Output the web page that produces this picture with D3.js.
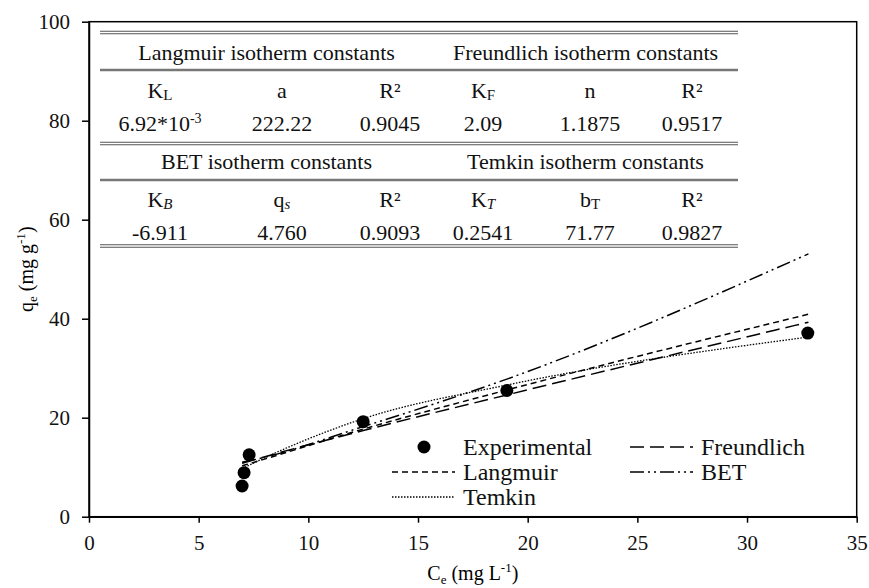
<!DOCTYPE html>
<html>
<head>
<meta charset="utf-8">
<script src="https://cdn.jsdelivr.net/npm/d3@7"></script>
<style>
  text, tspan { font-family: "Liberation Serif" !important; }
</style>
</head>
<body style="margin:0">
<svg id="fig" width="869" height="588" font-family="Liberation Serif"></svg>
<script>
// experimental points
const ceExp = [6.98, 7.07, 7.3, 12.5, 19.05, 32.77];
const qeExp = [6.2, 8.9, 12.5, 19.2, 25.5, 37.1];

const ceFit = [6.98, 7.07, 7.3, 12.5, 19.05, 32.8];
const langmuirFit = [10.3, 10.4, 10.7, 17.7, 25.6, 40.9];
const freundlichFit = [10.8, 10.9, 11.2, 17.4, 24.6, 39.3];
const betFit = [11.0, 11.1, 11.3, 18.2, 27.8, 53.1];
const temkinFit = [9.7, 9.9, 10.4, 19.8, 26.6, 36.3];

const xTicks = [0, 5, 10, 15, 20, 25, 30, 35];
const yTicks = [0, 20, 40, 60, 80, 100];

// inset table
const tableTitles = [
  "Langmuir isotherm constants", "Freundlich isotherm constants",
  "BET isotherm constants", "Temkin isotherm constants"
];
const symbolsTop = [
  { t: "K", sub: "L" }, { t: "a" }, { t: "R²" },
  { t: "K", sub: "F" }, { t: "n" }, { t: "R²" }
];
const valuesTop = [
  { t: "6.92*10", sup: "-3" }, { t: "222.22" }, { t: "0.9045" },
  { t: "2.09" }, { t: "1.1875" }, { t: "0.9517" }
];
const symbolsBottom = [
  { t: "K", sub: "B", it: true }, { t: "q", sub: "s", it: true }, { t: "R²" },
  { t: "K", sub: "T", it: true }, { t: "b", sub: "T" }, { t: "R²" }
];
const valuesBottom = [
  { t: "-6.911" }, { t: "4.760" }, { t: "0.9093" },
  { t: "0.2541" }, { t: "71.77" }, { t: "0.9827" }
];

const FONT = "Liberation Serif";
const svg = d3.select("#fig");
const plotL = 89, plotR = 856.7, plotT = 21.7, plotB = 516.7;

const x = d3.scaleLinear().domain([0, 35]).range([plotL, plotR]);
const y = d3.scaleLinear().domain([0, 100]).range([plotB, plotT]);

// frame
svg.append("rect")
  .attr("x", plotL).attr("y", plotT)
  .attr("width", plotR - plotL).attr("height", plotB - plotT)
  .attr("fill", "none").attr("stroke", "#000").attr("stroke-width", 1.5);

const xAxis = svg.append("g")
  .attr("transform", "translate(0," + plotB + ")")
  .call(d3.axisBottom(x).tickValues(xTicks).tickSize(6).tickSizeOuter(0).tickPadding(12));
const yAxis = svg.append("g")
  .attr("transform", "translate(" + plotL + ",0)")
  .call(d3.axisLeft(y).tickValues(yTicks).tickSize(7).tickSizeOuter(0).tickPadding(12));

[xAxis, yAxis].forEach(function (g) {
  g.attr("font-family", FONT).attr("font-size", 21);
  g.select(".domain").attr("stroke-width", 1.5);
  g.selectAll(".tick line").attr("stroke-width", 1.5);
  g.selectAll(".tick text").attr("fill", "#111");
});

// axis titles
const xTitle = svg.append("text")
  .attr("x", (plotL + plotR) / 2).attr("y", 580)
  .attr("text-anchor", "middle").attr("font-size", 20);
xTitle.append("tspan").text("C");
xTitle.append("tspan").attr("font-size", 13).attr("dy", 4).text("e");
xTitle.append("tspan").attr("dy", -4).text(" (mg L");
xTitle.append("tspan").attr("font-size", 13).attr("dy", -8).text("-1");
xTitle.append("tspan").attr("dy", 8).text(")");

const yTitle = svg.append("text")
  .attr("transform", "translate(33," + (plotT + plotB) / 2 + ") rotate(-90)")
  .attr("text-anchor", "middle").attr("font-size", 20);
yTitle.append("tspan").text("q");
yTitle.append("tspan").attr("font-size", 13).attr("dy", 4).text("e");
yTitle.append("tspan").attr("dy", -4).text(" (mg g");
yTitle.append("tspan").attr("font-size", 13).attr("dy", -8).text("-1");
yTitle.append("tspan").attr("dy", 8).text(")");

// table
const tblLeft = 100, tblRight = 738, tblMid = 433;
const colX = [160, 282, 390, 483, 590, 692];
const table = svg.append("g").attr("fill", "#111");

function doubleRule(yy) {
  [yy - 1.3, yy + 1.3].forEach(function (v) {
    table.append("line")
      .attr("x1", tblLeft).attr("x2", tblRight)
      .attr("y1", v).attr("y2", v)
      .attr("stroke", "#555").attr("stroke-width", 1.1);
  });
}
function singleRule(yy) {
  table.append("line")
    .attr("x1", tblLeft).attr("x2", tblRight)
    .attr("y1", yy).attr("y2", yy)
    .attr("stroke", "#777").attr("stroke-width", 2.4);
}
function cellRow(cells, yy) {
  cells.forEach(function (c, i) {
    const t = table.append("text")
      .attr("x", colX[i]).attr("y", yy)
      .attr("text-anchor", "middle")
      .attr("font-size", 22);
    t.append("tspan").text(c.t);
    if (c.sub) {
      t.append("tspan")
        .attr("font-size", 15).attr("dy", 2)
        .attr("font-style", c.it ? "italic" : "normal")
        .text(c.sub);
    }
    if (c.sup) {
      t.append("tspan").attr("font-size", 14).attr("dy", -8).text(c.sup);
    }
  });
}
function titleRow(a, b, yy) {
  table.append("text").attr("x", (tblLeft + tblMid) / 2).attr("y", yy)
    .attr("text-anchor", "middle").attr("font-size", 22).text(a);
  table.append("text").attr("x", (tblMid + tblRight) / 2).attr("y", yy)
    .attr("text-anchor", "middle").attr("font-size", 22).text(b);
}

doubleRule(32.5);
titleRow(tableTitles[0], tableTitles[1], 60);
singleRule(70);
cellRow(symbolsTop, 98);
cellRow(valuesTop, 131);
doubleRule(143.5);
titleRow(tableTitles[2], tableTitles[3], 169);
singleRule(180);
cellRow(symbolsBottom, 207);
cellRow(valuesBottom, 240);
doubleRule(246);

// fitted curves
const styles = {
  langmuir: { dash: "6,4", w: 1.5 },
  freundlich: { dash: "14,6", w: 1.5 },
  bet: { dash: "14,4,2,4,2,4", w: 1.5 },
  temkin: { dash: "1.5,1.5", w: 1.3 }
};
const series = [
  { key: "langmuir", vals: langmuirFit },
  { key: "freundlich", vals: freundlichFit },
  { key: "bet", vals: betFit },
  { key: "temkin", vals: temkinFit }
];
const line = d3.line()
  .x(function (d) { return x(d[0]); })
  .y(function (d) { return y(d[1]); })
  .curve(d3.curveMonotoneX);

svg.append("g").selectAll("path")
  .data(series)
  .enter()
  .append("path")
  .attr("d", function (s) { return line(d3.zip(ceFit, s.vals)); })
  .attr("fill", "none")
  .attr("stroke", "#000")
  .attr("stroke-width", function (s) { return styles[s.key].w; })
  .attr("stroke-dasharray", function (s) { return styles[s.key].dash; });

svg.append("g").selectAll("circle")
  .data(d3.zip(ceExp, qeExp))
  .enter()
  .append("circle")
  .attr("cx", function (d) { return x(d[0]); })
  .attr("cy", function (d) { return y(d[1]); })
  .attr("r", 6.5)
  .attr("fill", "#000");

// legend
const legendItems = [
  { label: "Experimental", key: null, lx: 392, ly: 447 },
  { label: "Langmuir", key: "langmuir", lx: 392, ly: 472 },
  { label: "Temkin", key: "temkin", lx: 392, ly: 497 },
  { label: "Freundlich", key: "freundlich", lx: 630, ly: 447 },
  { label: "BET", key: "bet", lx: 630, ly: 472 }
];
const legend = svg.append("g").attr("fill", "#111");
legendItems.forEach(function (d) {
  if (d.key) {
    legend.append("line")
      .attr("x1", d.lx).attr("x2", d.lx + 63)
      .attr("y1", d.ly).attr("y2", d.ly)
      .attr("stroke", "#000")
      .attr("stroke-width", styles[d.key].w)
      .attr("stroke-dasharray", styles[d.key].dash);
  } else {
    legend.append("circle")
      .attr("cx", d.lx + 32).attr("cy", d.ly).attr("r", 6.5).attr("fill", "#000");
  }
  legend.append("text")
    .attr("x", d.lx + 71).attr("y", d.ly + 8)
    .attr("font-size", 24)
    .text(d.label);
});

// serif on every text node
svg.selectAll("text, tspan")
  .attr("font-family", FONT)
  .style("font-family", FONT, "important");
</script>
</body>
</html>
